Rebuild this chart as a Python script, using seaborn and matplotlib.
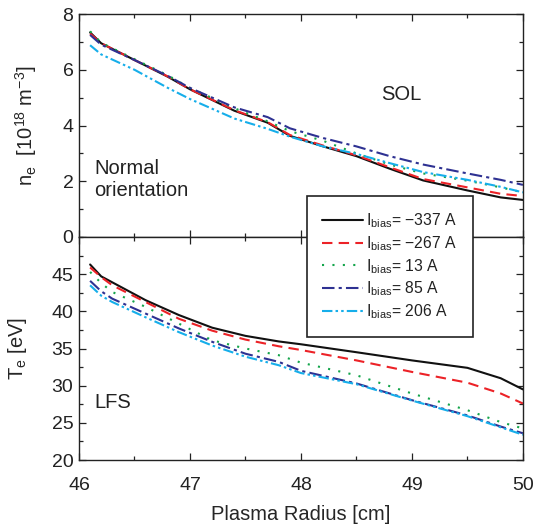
import numpy as np
import pandas as pd
import matplotlib
matplotlib.use("Agg")
import matplotlib.pyplot as plt
import seaborn as sns
from matplotlib.ticker import MultipleLocator

# ---------------- data ----------------
radius_ne = [46.1, 46.2, 46.5, 46.8, 47.0, 47.4, 47.7, 47.9, 48.2, 48.5, 48.8, 49.1, 49.5, 49.8, 50.0]
radius_te = [46.1, 46.2, 46.3, 46.6, 46.9, 47.2, 47.5, 47.8, 48.0, 48.5, 49.0, 49.5, 49.8, 50.0]

labels = ["−337 A", "−267 A", "13 A", "85 A", "206 A"]

ne_m337 = [7.34, 6.95, 6.35, 5.75, 5.30, 4.53, 4.10, 3.63, 3.25, 2.90, 2.45, 2.03, 1.67, 1.42, 1.33]
ne_m267 = [7.30, 6.95, 6.35, 5.76, 5.30, 4.55, 4.12, 3.66, 3.28, 2.93, 2.50, 2.08, 1.78, 1.55, 1.47]
ne_13   = [7.38, 6.97, 6.38, 5.80, 5.35, 4.62, 4.15, 3.80, 3.45, 3.00, 2.60, 2.28, 2.02, 1.78, 1.60]
ne_85   = [7.25, 6.90, 6.35, 5.78, 5.35, 4.65, 4.30, 3.90, 3.55, 3.25, 2.90, 2.60, 2.28, 2.05, 1.87]
ne_206  = [6.88, 6.55, 6.00, 5.35, 4.95, 4.25, 3.88, 3.60, 3.25, 2.98, 2.65, 2.33, 2.05, 1.80, 1.60]

te_m337 = [46.3, 44.7, 43.9, 41.5, 39.5, 37.8, 36.7, 35.95, 35.57, 34.5, 33.4, 32.4, 31.0, 29.5]
te_m267 = [45.9, 44.6, 43.5, 41.25, 39.0, 37.4, 36.2, 35.3, 34.8, 33.4, 31.85, 30.4, 28.95, 27.6]
te_13   = [45.3, 43.8, 42.6, 40.6, 38.35, 36.1, 35.0, 34.1, 33.1, 31.4, 28.95, 26.7, 25.1, 24.25]
te_85   = [44.1, 42.7, 41.7, 39.7, 37.7, 35.9, 34.3, 33.2, 32.0, 30.3, 28.05, 26.0, 24.5, 23.6]
te_206  = [43.5, 42.1, 41.25, 39.2, 37.2, 35.4, 33.9, 32.75, 31.7, 30.2, 28.0, 25.9, 24.4, 23.4]

ne_series = [ne_m337, ne_m267, ne_13, ne_85, ne_206]
te_series = [te_m337, te_m267, te_13, te_85, te_206]

colors = ["#111111", "#ec2227", "#14a54b", "#2e3192", "#16aeea"]
styles = ["-", (0, (5, 3)), (0, (1, 4)), (0, (6, 2, 1.5, 2)), (0, (5, 1.5, 1.2, 1.5, 1.2, 1.5))]

# ---------------- style ----------------
sns.set_style("ticks")
plt.rcParams["font.family"] = ["Liberation Sans", "DejaVu Sans"]
plt.rcParams["mathtext.fontset"] = "custom"
plt.rcParams["mathtext.rm"] = "Liberation Sans"
plt.rcParams["mathtext.it"] = "Liberation Sans:italic"
plt.rcParams["text.color"] = "#222222"

fig = plt.figure(figsize=(5.43, 5.27), dpi=100)
L, R = 0.1455, 0.963
B, M, T = 0.1271, 0.5503, 0.9734
ax1 = fig.add_axes([L, M, R - L, T - M])
ax2 = fig.add_axes([L, B, R - L, M - B])

handles = []
for i in range(5):
    df1 = pd.DataFrame({"r": radius_ne, "v": ne_series[i]})
    df2 = pd.DataFrame({"r": radius_te, "v": te_series[i]})
    sns.lineplot(data=df1, x="r", y="v", ax=ax1, color=colors[i], linestyle=styles[i], linewidth=1.5)
    sns.lineplot(data=df2, x="r", y="v", ax=ax2, color=colors[i], linestyle=styles[i], linewidth=1.5)
    handles.append(ax2.lines[-1])

fs_tick = 14
fs = 14.5
for ax in (ax1, ax2):
    ax.set_xlim(46, 50)
    ax.xaxis.set_major_locator(MultipleLocator(1))
    ax.xaxis.set_minor_locator(MultipleLocator(0.5))
    ax.tick_params(which="both", direction="in", top=True, right=True, labelsize=fs_tick,
                   colors="#222222", pad=4)
    ax.tick_params(axis="x", which="major", pad=12)
    ax.tick_params(which="major", length=5, width=0.9)
    ax.tick_params(which="minor", length=3, width=0.9)
    for s in ax.spines.values():
        s.set_linewidth(1.0)
        s.set_color("#222222")

ax1.set_ylim(0, 8)
ax1.yaxis.set_major_locator(MultipleLocator(2))
ax1.yaxis.set_minor_locator(MultipleLocator(1))
ax1.tick_params(labelbottom=False)
ax1.set_xlabel("")
ax1.set_ylabel(r"$\mathregular{n_e}$  [10$^{\mathregular{18}}$ m$^{\mathregular{-3}}$]", fontsize=fs)

ax2.set_ylim(20, 50)
ax2.set_yticks([20, 25, 30, 35, 40, 45])
ax2.yaxis.set_minor_locator(MultipleLocator(2.5))
ax2.set_xlabel("Plasma Radius [cm]", fontsize=fs, labelpad=8)
ax2.set_ylabel(r"$\mathregular{T_e}$ [eV]", fontsize=fs)

ax1.yaxis.set_label_coords(-0.09, 0.5)
ax2.yaxis.set_label_coords(-0.113, 0.5)

ax1.text(48.9, 5.1, "SOL", fontsize=fs, ha="center", va="center")
ax1.text(46.14, 2.05, "Normal\norientation", fontsize=fs, ha="left", va="center", linespacing=1.2)
ax2.text(46.3, 27.8, "LFS", fontsize=fs, ha="center", va="center")

fs_leg = 11.3
leg = fig.legend(handles, [r"$\mathregular{I_{bias}}$= " + s for s in labels],
                 loc="upper left", bbox_to_anchor=(0.565, 0.628),
                 fontsize=fs_leg, frameon=True, fancybox=False, handlelength=2.6,
                 handletextpad=0.2, labelspacing=0.25, borderpad=1.0, borderaxespad=0)
leg.get_frame().set_edgecolor("#222222")
leg.get_frame().set_linewidth(1.2)
leg.get_frame().set_alpha(1)
leg.set_zorder(10)

fig.savefig("out.png", dpi=100)
